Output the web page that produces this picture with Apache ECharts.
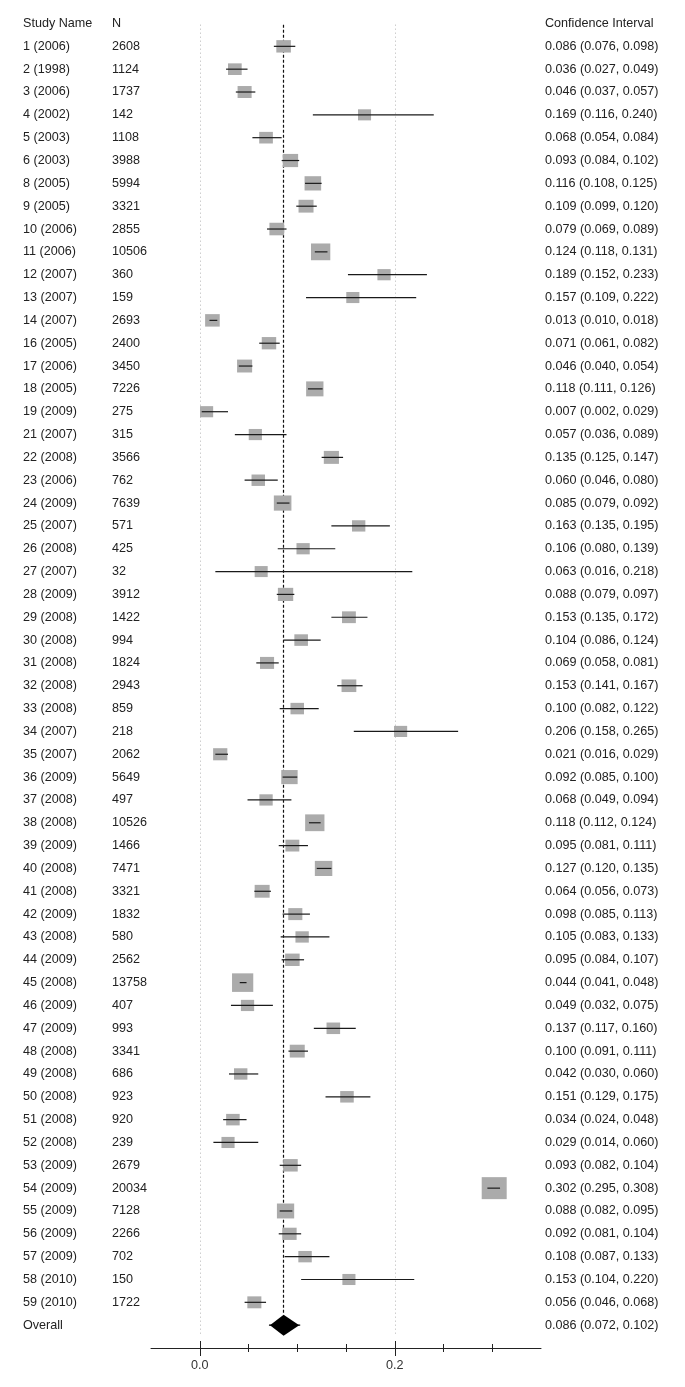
<!DOCTYPE html>
<html><head><meta charset="utf-8">
<script src="https://cdn.jsdelivr.net/npm/echarts@6/dist/echarts.min.js"></script>
<style>html,body{margin:0;padding:0;background:#fff}#chart{width:685px;height:1387px}</style>
</head><body><div id="chart"></div>
<script>
const studyNames = ["1 (2006)","2 (1998)","3 (2006)","4 (2002)","5 (2003)","6 (2003)","8 (2005)","9 (2005)","10 (2006)","11 (2006)","12 (2007)","13 (2007)","14 (2007)","16 (2005)","17 (2006)","18 (2005)","19 (2009)","21 (2007)","22 (2008)","23 (2006)","24 (2009)","25 (2007)","26 (2008)","27 (2007)","28 (2009)","29 (2008)","30 (2008)","31 (2008)","32 (2008)","33 (2008)","34 (2007)","35 (2007)","36 (2009)","37 (2008)","38 (2008)","39 (2009)","40 (2008)","41 (2008)","42 (2009)","43 (2008)","44 (2009)","45 (2008)","46 (2009)","47 (2009)","48 (2008)","49 (2008)","50 (2008)","51 (2008)","52 (2008)","53 (2009)","54 (2009)","55 (2009)","56 (2009)","57 (2009)","58 (2010)","59 (2010)"];
const sampleSizes = [2608,1124,1737,142,1108,3988,5994,3321,2855,10506,360,159,2693,2400,3450,7226,275,315,3566,762,7639,571,425,32,3912,1422,994,1824,2943,859,218,2062,5649,497,10526,1466,7471,3321,1832,580,2562,13758,407,993,3341,686,923,920,239,2679,20034,7128,2266,702,150,1722];
const estimates = [0.086,0.036,0.046,0.169,0.068,0.093,0.116,0.109,0.079,0.124,0.189,0.157,0.013,0.071,0.046,0.118,0.007,0.057,0.135,0.060,0.085,0.163,0.106,0.063,0.088,0.153,0.104,0.069,0.153,0.100,0.206,0.021,0.092,0.068,0.118,0.095,0.127,0.064,0.098,0.105,0.095,0.044,0.049,0.137,0.100,0.042,0.151,0.034,0.029,0.093,0.302,0.088,0.092,0.108,0.153,0.056];
const lowerCI = [0.076,0.027,0.037,0.116,0.054,0.084,0.108,0.099,0.069,0.118,0.152,0.109,0.010,0.061,0.040,0.111,0.002,0.036,0.125,0.046,0.079,0.135,0.080,0.016,0.079,0.135,0.086,0.058,0.141,0.082,0.158,0.016,0.085,0.049,0.112,0.081,0.120,0.056,0.085,0.083,0.084,0.041,0.032,0.117,0.091,0.030,0.129,0.024,0.014,0.082,0.295,0.082,0.081,0.087,0.104,0.046];
const upperCI = [0.098,0.049,0.057,0.240,0.084,0.102,0.125,0.120,0.089,0.131,0.233,0.222,0.018,0.082,0.054,0.126,0.029,0.089,0.147,0.080,0.092,0.195,0.139,0.218,0.097,0.172,0.124,0.081,0.167,0.122,0.265,0.029,0.100,0.094,0.124,0.111,0.135,0.073,0.113,0.133,0.107,0.048,0.075,0.160,0.111,0.060,0.175,0.048,0.060,0.104,0.308,0.095,0.104,0.133,0.220,0.068];
const overallLabel = "Overall";
const overallEstimate = 0.086;
const overallLower = 0.072;
const overallUpper = 0.102;
const headers = ["Study Name", "N", "Confidence Interval"];
const xMin = -0.05, xMax = 0.35;
const xTickValues = [0, 0.05, 0.1, 0.15, 0.2, 0.25, 0.3];
const xLabelValues = [0, 0.2];
const gridLineValues = [0, 0.2];

const nStudies = studyNames.length;
const overallRow = nStudies + 1;
const lastRow = overallRow + 1;
const maxN = Math.max(...sampleSizes);
const fmt = v => v.toFixed(3);
const ciText = (e, l, u) => fmt(e) + " (" + fmt(l) + ", " + fmt(u) + ")";

const col1 = [headers[0], ...studyNames, overallLabel];
const col2 = [headers[1], ...sampleSizes.map(String), ""];
const col3 = [headers[2], ...estimates.map((e, i) => ciText(e, lowerCI[i], upperCI[i])), ciText(overallEstimate, overallLower, overallUpper)];

const FONT = "'Liberation Sans', Arial, sans-serif";
const FS = 12.6;
const TXT = "#222";
const studyData = estimates.map((e, i) => [e, lowerCI[i], upperCI[i], i + 1, sampleSizes[i]]);

const GRID = {left: 151, right: 144, top: 23.5, bottom: 39, containLabel: false};

function yAx(position, labels, margin, gridIndex) {
  return {
    type: 'value', gridIndex: gridIndex || 0, position: position, min: 0, max: lastRow, interval: 1, inverse: true,
    axisLine: {show: false, onZero: false}, axisTick: {show: false}, splitLine: {show: false},
    axisLabel: labels ? {
      show: true, align: 'left', margin: margin, color: TXT, fontFamily: FONT, fontSize: FS,
      showMinLabel: true, showMaxLabel: true,
      formatter: v => (labels[Math.round(v)] !== undefined ? labels[Math.round(v)] : "")
    } : {show: false}
  };
}
function xAx(gridIndex, opts) {
  return Object.assign({
    type: 'value', gridIndex: gridIndex, position: 'bottom', min: xMin, max: xMax,
    splitLine: {show: false},
    axisLine: {show: false, onZero: false},
    axisLabel: {show: false}
  }, opts);
}
const tickStyle = {color: '#222', width: 1};

const chart = echarts.init(document.getElementById('chart'), null, {renderer: 'canvas'});
chart.setOption({
  animation: false,
  backgroundColor: '#fff',
  grid: [GRID, GRID, GRID, GRID],
  xAxis: [
    xAx(0, {
      axisLine: {show: true, onZero: false, lineStyle: {color: '#222', width: 1}},
      axisTick: {show: true, inside: false, length: 4, customValues: xTickValues, lineStyle: tickStyle},
      axisLabel: {show: true, customValues: xLabelValues, margin: 11, color: '#333', fontFamily: FONT, fontSize: FS, formatter: v => v.toFixed(1)}
    }),
    xAx(1, {axisTick: {show: true, inside: true, length: 4, customValues: xTickValues, lineStyle: tickStyle}}),
    xAx(2, {axisTick: {show: true, inside: false, length: 8, customValues: xLabelValues, lineStyle: tickStyle}}),
    xAx(3, {axisTick: {show: true, inside: true, length: 7, customValues: xLabelValues, lineStyle: tickStyle}})
  ],
  yAxis: [
    yAx('left', col1, 128, 0), yAx('left', col2, 39, 0), yAx('right', col3, 4, 0),
    yAx('left', null, 0, 1), yAx('left', null, 0, 2), yAx('left', null, 0, 3)
  ],
  series: [
    {
      type: 'custom', xAxisIndex: 0, yAxisIndex: 0, silent: true, z: 5,
      data: studyData,
      renderItem: function (params, api) {
        const e = api.value(0), lo = api.value(1), hi = api.value(2), row = api.value(3), n = api.value(4);
        const c = api.coord([e, row]);
        const pl = api.coord([lo, row]);
        const ph = api.coord([hi, row]);
        const w = 13 + 12 * n / maxN;
        const h = 11 + 11 * n / maxN;
        return {
          type: 'group',
          children: [
            {type: 'rect', shape: {x: c[0] - w / 2, y: c[1] - h / 2, width: w, height: h}, style: {fill: '#ababab'}},
            {type: 'line', shape: {x1: pl[0], y1: c[1], x2: ph[0], y2: c[1]}, style: {stroke: '#1a1a1a', lineWidth: 1.2}}
          ]
        };
      },
      markLine: {
        silent: true, symbol: 'none', label: {show: false}, animation: false,
        data: [
          ...gridLineValues.map(g => [
            {coord: [g, 0.05], lineStyle: {color: '#b5b5b5', width: 1, type: [1, 3]}},
            {coord: [g, overallRow + 0.45]}
          ]),
          [
            {coord: [overallEstimate, 0.05], lineStyle: {color: '#111', width: 1.2, type: [3, 2]}},
            {coord: [overallEstimate, overallRow - 0.46]}
          ]
        ]
      }
    },
    {
      type: 'custom', xAxisIndex: 0, yAxisIndex: 0, silent: true, z: 6,
      data: [[overallEstimate, overallLower, overallUpper, overallRow]],
      renderItem: function (params, api) {
        const e = api.value(0), lo = api.value(1), hi = api.value(2), row = api.value(3);
        const c = api.coord([e, row]);
        const pl = api.coord([lo, row]);
        const ph = api.coord([hi, row]);
        const hh = 10.5;
        return {
          type: 'group',
          children: [
            {type: 'polygon', shape: {points: [[pl[0], c[1]], [c[0], c[1] - hh], [ph[0], c[1]], [c[0], c[1] + hh]]}, style: {fill: '#000'}},
            {type: 'line', shape: {x1: pl[0] - 1, y1: c[1], x2: ph[0] + 1, y2: c[1]}, style: {stroke: '#000', lineWidth: 1.2}}
          ]
        };
      }
    }
  ]
});
</script>
</body></html>
